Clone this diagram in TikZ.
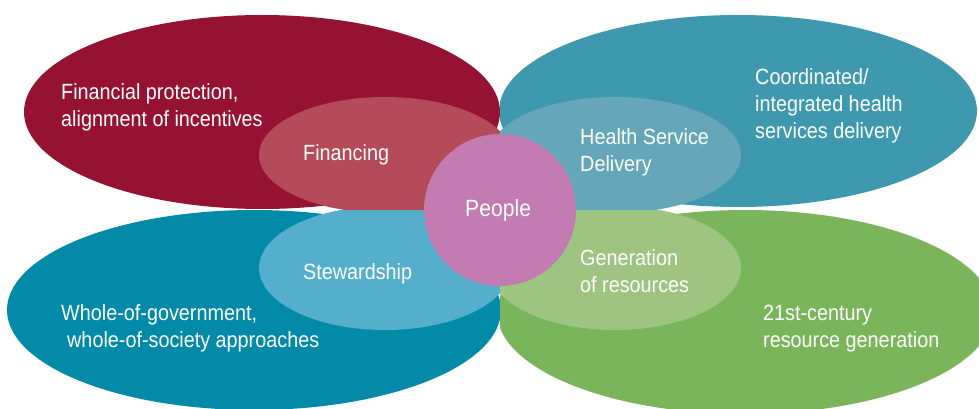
\documentclass[tikz,border=0pt]{standalone}
\usepackage{fontspec}
\setmainfont{Liberation Sans}[FakeStretch=0.9]
\definecolor{cRed}{HTML}{951233}
\definecolor{cRedL}{HTML}{B54A58}
\definecolor{cTeal}{HTML}{3E99AE}
\definecolor{cTealL}{HTML}{65A7B9}
\definecolor{cBlue}{HTML}{028AA8}
\definecolor{cBlueL}{HTML}{55AECB}
\definecolor{cGreen}{HTML}{7AB55C}
\definecolor{cGreenL}{HTML}{9DC480}
\definecolor{cPink}{HTML}{C47BB1}
\tikzset{
  lbl/.style={text=white, anchor=base west, align=left, inner sep=0pt, font=\fontsize{22}{27}\selectfont},
}
\begin{document}
\begin{tikzpicture}[x=1pt,y=-1pt]
\useasboundingbox (0,0) rectangle (979,409);
% top-left
\begin{scope}
\clip (0,0) rectangle (500,210);
\fill[cRed] (262,112) ellipse [x radius=238, y radius=97];
\fill[cRedL] (385,155) ellipse [x radius=126, y radius=58];
\end{scope}
% top-right
\begin{scope}
\clip (500,0) rectangle (979,210);
\fill[cTeal] (738,111) ellipse [x radius=239, y radius=96];
\fill[cTealL] (615,155) ellipse [x radius=126, y radius=58];
\end{scope}
% bottom-left
\begin{scope}
\clip (0,210) rectangle (500,409);
\fill[cBlue] (254,310) ellipse [x radius=247, y radius=100];
\fill[cBlueL] (385,268) ellipse [x radius=126, y radius=62];
\end{scope}
% bottom-right
\begin{scope}
\clip (500,210) rectangle (979,409);
\fill[cGreen] (745,312) ellipse [x radius=248, y radius=102];
\fill[cGreenL] (615,268) ellipse [x radius=126, y radius=62];
\end{scope}
\node[circle, fill=cPink, minimum size=152pt, inner sep=0pt] (people) at (500,210) {};
\node[lbl, font=\fontsize{23.5}{27}\selectfont] (peopletxt) at (465,216) {People};
\node[lbl] (fin) at (61,126) {Financial protection,\\alignment of incentives};
\node[lbl] (financing) at (303,160) {Financing};
\node[lbl] (hsd) at (580,171) {Health Service\\Delivery};
\node[lbl] (coord) at (755,139) {Coordinated/\\integrated health\\services delivery};
\node[lbl] (stew) at (303,279) {Stewardship};
\node[lbl] (whole) at (61,347) {Whole-of-government,\\\hspace*{6pt}whole-of-society approaches};
\node[lbl] (gen) at (580,292) {Generation\\of resources};
\node[lbl] (res) at (763,347) {21st-century\\resource generation};
\end{tikzpicture}
\end{document}
